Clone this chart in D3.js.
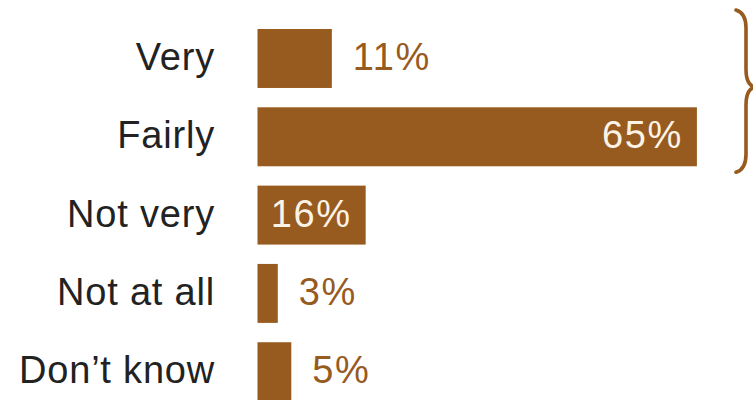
<!DOCTYPE html>
<html>
<head>
<meta charset="utf-8">
<script src="https://cdn.jsdelivr.net/npm/d3@7"></script>
<style>
  html, body { margin: 0; padding: 0; background: #ffffff; }
  svg { display: block; }
</style>
</head>
<body>
<svg id="chart" width="753" height="400"></svg>
<script>
const categories = ["Very", "Fairly", "Not very", "Not at all", "Don\u2019t know"];
const values = [11, 65, 16, 3, 5];
const valueLabels = ["11%", "65%", "16%", "3%", "5%"];
const insideLabel = [false, true, true, false, false];

const barColor = "#975a1f";
const svg = d3.select("#chart");

const x = d3.scaleLinear().domain([0, 100]).range([257.5, 257.5 + 676]);
const y = d3.scaleBand().domain(categories).range([29, 401.2]).paddingInner(0.247).paddingOuter(0);

const font = "'Liberation Sans', Arial, Helvetica, sans-serif";

// Bars
svg.selectAll("rect.bar")
  .data(categories)
  .join("rect")
  .attr("class", "bar")
  .attr("x", x(0))
  .attr("y", d => y(d))
  .attr("width", (d, i) => x(values[i]) - x(0))
  .attr("height", y.bandwidth())
  .attr("fill", barColor);

// Category labels (axis)
const yAxis = d3.axisLeft(y).tickSize(0).tickPadding(0);
const gAxis = svg.append("g").attr("transform", "translate(215,0)").call(yAxis);
gAxis.select(".domain").remove();
gAxis.selectAll("text")
  .attr("font-family", font)
  .attr("font-size", 38)
  .attr("letter-spacing", 0.8)
  .attr("fill", "#222222")
  .attr("dy", "0.3em");

// Value labels
svg.selectAll("text.val")
  .data(categories)
  .join("text")
  .attr("class", "val")
  .attr("x", (d, i) => insideLabel[i] ? x(values[i]) - 14 : x(values[i]) + 21)
  .attr("y", d => y(d) + y.bandwidth() / 2)
  .attr("dy", "0.3em")
  .attr("text-anchor", (d, i) => insideLabel[i] ? "end" : "start")
  .attr("font-family", font)
  .attr("font-size", 38)
  .attr("letter-spacing", 1.6)
  .attr("fill", (d, i) => insideLabel[i] ? "#fbf3e6" : barColor)
  .text((d, i) => valueLabels[i]);

// Curly brace grouping Very + Fairly
const braceTop = y(categories[0]) - 19, braceBot = y(categories[1]) + y.bandwidth() + 6;
const braceMid = (braceTop + braceBot) / 2 - 4;
const bx = 746, ex = 736, px = 755;
const brace = d3.path();
brace.moveTo(ex, braceTop);
brace.quadraticCurveTo(bx, braceTop + 3, bx, braceTop + 18);
brace.lineTo(bx, braceMid - 18);
brace.quadraticCurveTo(bx, braceMid - 2, px, braceMid);
brace.quadraticCurveTo(bx, braceMid + 2, bx, braceMid + 18);
brace.lineTo(bx, braceBot - 18);
brace.quadraticCurveTo(bx, braceBot - 3, ex, braceBot);
svg.append("path")
  .attr("d", brace.toString())
  .attr("fill", "none")
  .attr("stroke", barColor)
  .attr("stroke-width", 3.6)
  .attr("stroke-linecap", "round");
</script>
</body>
</html>
